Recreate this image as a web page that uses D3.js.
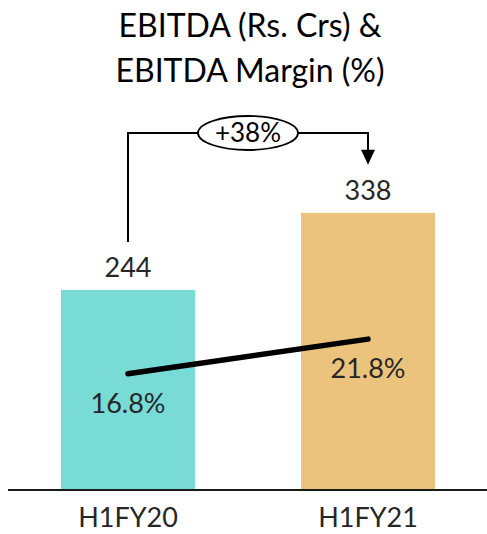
<!DOCTYPE html>
<html>
<head>
<meta charset="utf-8">
<script src="https://cdn.jsdelivr.net/npm/d3@7"></script>
<style>
  html, body { margin: 0; padding: 0; background: #fff; }
  svg { display: block; }
  text { font-family: Lato, "Open Sans", sans-serif; fill: #1e1e1e; }
</style>
</head>
<body>
<svg id="chart" width="487" height="534"></svg>
<script>
const categories = ["H1FY20", "H1FY21"];
const ebitda = [244, 338];
const margin = [16.8, 21.8];
const marginLabels = ["16.8%", "21.8%"];
const growthLabel = "+38%";
const titleLines = ["EBITDA (Rs. Crs) &", "EBITDA Margin (%)"];
const barColors = ["#78dbd6", "#ecc37c"];

const svg = d3.select("#chart");
const baseY = 490;

const x = d3.scaleBand().domain(categories).range([8, 488]).paddingInner(0.4417).paddingOuter(0.2208);
const yBar = d3.scaleLinear().domain([0, 400]).range([baseY, 162]);
const yM = d3.scaleLinear().domain([0, 25]).range([baseY, 317]);
const cx = c => x(c) + x.bandwidth() / 2;

// title
svg.append("g").selectAll("text").data(titleLines).join("text")
  .attr("x", 250).attr("y", (d, i) => 37 + i * 45)
  .attr("text-anchor", "middle").attr("font-size", 32).attr("font-weight", 400)
  .style("fill", "#000")
  .text(d => d);

// bars
svg.append("g").selectAll("rect").data(categories).join("rect")
  .attr("x", d => x(d)).attr("width", x.bandwidth())
  .attr("y", (d, i) => yBar(ebitda[i]))
  .attr("height", (d, i) => baseY - yBar(ebitda[i]))
  .attr("fill", (d, i) => barColors[i]);

// x axis
const xAxis = d3.axisBottom(x).tickSize(0).tickPadding(18);
const ax = svg.append("g").attr("transform", `translate(0,${baseY})`).call(xAxis);
ax.select(".domain").remove();
ax.selectAll("text").attr("font-size", 27).attr("font-weight", 400).attr("dy", "0.71em")
  .style("font-family", "Lato, sans-serif").style("fill", "#262626");
svg.append("line").attr("x1", 8).attr("x2", 487).attr("y1", baseY).attr("y2", baseY)
  .attr("stroke", "#1a1a1a").attr("stroke-width", 2);

// value labels
svg.append("g").selectAll("text").data(categories).join("text")
  .attr("x", d => cx(d)).attr("y", (d, i) => yBar(ebitda[i]) - 13)
  .attr("text-anchor", "middle").attr("font-size", 27).attr("font-weight", 400)
  .style("fill", "#262626")
  .text((d, i) => ebitda[i]);

// margin line
const line = d3.line().x((d, i) => cx(categories[i])).y(d => yM(d));
svg.append("path").datum(margin).attr("d", line)
  .attr("fill", "none").attr("stroke", "#000").attr("stroke-width", 5.5).attr("stroke-linecap", "round");

svg.append("g").selectAll("text").data(categories).join("text")
  .attr("x", d => cx(d)).attr("y", (d, i) => yM(margin[i]) + 39)
  .attr("text-anchor", "middle").attr("font-size", 27).attr("font-weight", 400)
  .style("fill", "#262626")
  .text((d, i) => marginLabels[i]);

// growth annotation
const bracketY = 133;
const x1 = cx(categories[0]), x2 = cx(categories[1]);
const yStart = yBar(ebitda[0]) - 48;
const yEnd = yBar(ebitda[1]) - 48;
const midX = (x1 + x2) / 2;
const rx = 50, ry = 17;
const ann = svg.append("g");
ann.append("path")
  .attr("d", `M${x1},${yStart}V${bracketY}H${midX - rx}M${midX + rx},${bracketY}H${x2}V${yEnd - 14}`)
  .attr("fill", "none").attr("stroke", "#000").attr("stroke-width", 2);
ann.append("path")
  .attr("d", `M${x2 - 7},${yEnd - 15}L${x2 + 7},${yEnd - 15}L${x2},${yEnd}Z`)
  .attr("fill", "#000");
ann.append("ellipse").attr("cx", midX).attr("cy", bracketY).attr("rx", rx).attr("ry", ry)
  .attr("fill", "#fff").attr("stroke", "#000").attr("stroke-width", 1.8);
ann.append("text").attr("x", midX).attr("y", bracketY + 9)
  .attr("text-anchor", "middle").attr("font-size", 26).attr("font-weight", 400)
  .style("fill", "#000")
  .text(growthLabel);
</script>
</body>
</html>
